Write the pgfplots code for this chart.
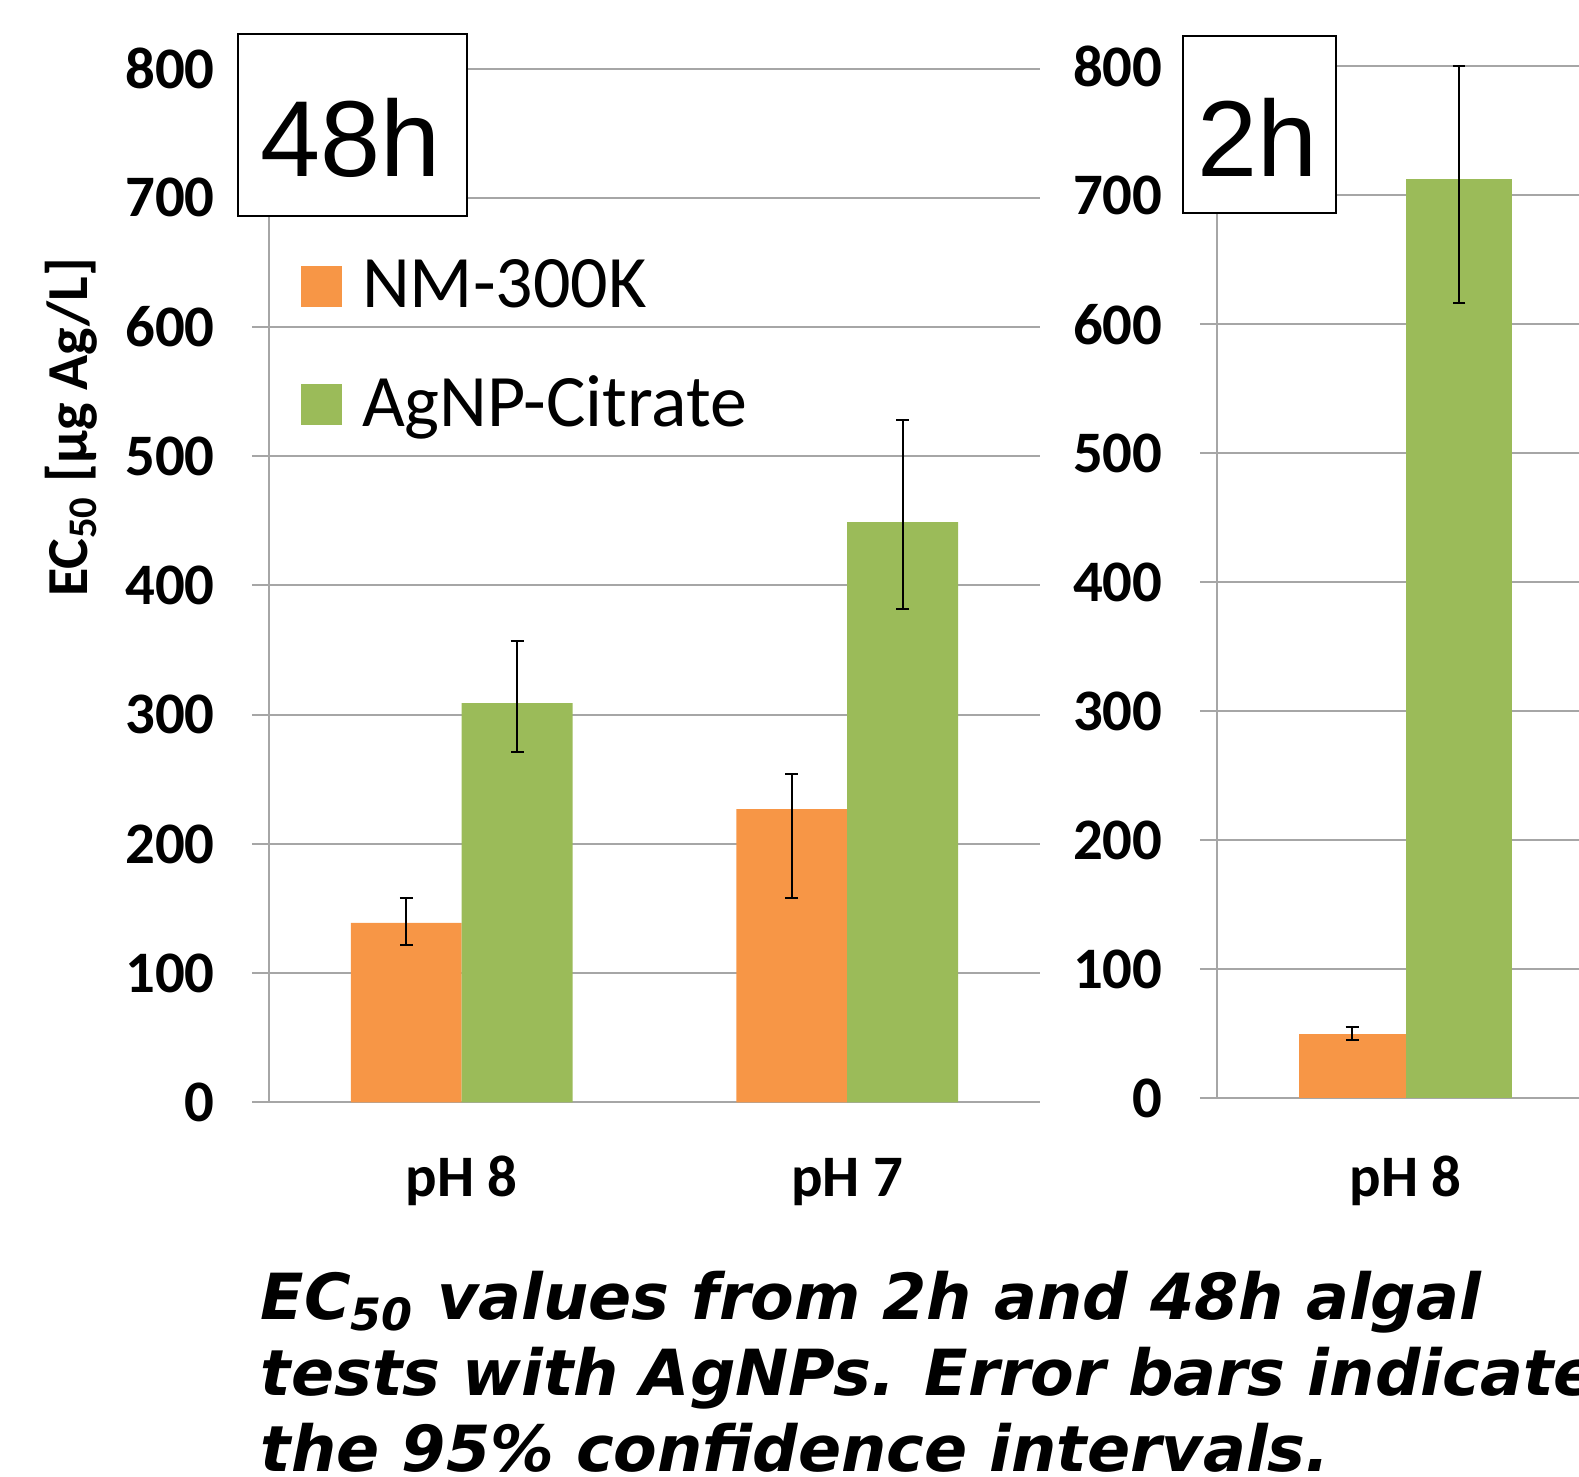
\documentclass[border=0pt]{standalone}
\usepackage{fontspec}
\setmainfont{Carlito}
\newfontfamily\capfont{DejaVu Sans}
\newfontfamily\arialfont{Liberation Sans}
\usepackage{pgfplots}
\pgfplotsset{compat=1.18}
\definecolor{orng}{HTML}{F79646}
\definecolor{grn}{HTML}{9BBB59}
\definecolor{grd}{HTML}{A6A6A6}
\pgfplotsset{
  panel/.style={
    scale only axis,
    anchor=south west,
    ybar=0pt,
    ymin=0, ymax=800,
    ytick={0,100,...,800},
    xmin=-0.5,
    axis lines*=left,
    axis line style={grd, line width=0.5pt},
    ymajorgrids,
    grid style={grd, line width=0.5pt},
    ytick align=outside,
    major tick length=4.25pt,
    tick style={grd, line width=0.5pt},
    x tick style={draw=none},
    /pgf/number format/assume math mode=true,
    tick label style={font=\fontsize{14.7}{16}\selectfont\bfseries},
    yticklabel style={anchor=east, inner sep=0pt, xshift=-9.15pt},
    error bars/error bar style={draw=black, line width=0.5pt},
    error bars/error mark options={rotate=90, draw=black, mark size=1.6pt, line width=0.5pt},
    clip=false,
  }
}
\begin{document}
\begin{tikzpicture}
\path[use as bounding box, clip] (0pt,0pt) rectangle (394.75pt,369.25pt);
% left panel (48h)
\begin{axis}[panel,
  at={(67.25pt,93.625pt)}, width=192.75pt, height=258.5pt,
  xmax=1.5, xtick={0,1}, xticklabels={pH 8,pH 7},
  xticklabel style={anchor=base, inner sep=0pt, yshift=-19.3pt},
  bar width=27.7pt,
  ylabel={EC\textsubscript{50} [µg Ag/L]},
  every axis y label/.style={at={(axis description cs:-0.2348,0.653)}, rotate=90, anchor=base, inner sep=0pt, font=\fontsize{14.5}{16}\selectfont\bfseries},
  legend image code/.code={\fill[#1] (0pt,-5.125pt) rectangle (10.25pt,5.125pt);},
  legend cell align=left,
  legend style={draw=none, fill=none, at={(axis description cs:0.0405,0.7314)}, anchor=west, inner sep=0pt, row sep=15.5pt, column sep=5pt, font=\fontsize{18.5}{21}\selectfont, nodes={inner sep=0pt}},
]
\addplot[fill=orng, draw=none, error bars/.cd, y dir=both, y explicit]
  coordinates {(0,139) += (0,19) -= (0,17) (1,227) += (0,27) -= (0,69)};
\addplot[fill=grn, draw=none, error bars/.cd, y dir=both, y explicit]
  coordinates {(0,309) += (0,48) -= (0,38) (1,449) += (0,79) -= (0,67)};
\legend{NM-300K, AgNP-Citrate}
\end{axis}
% right panel (2h)
\begin{axis}[panel,
  at={(304.25pt,94.625pt)}, width=103.675pt, height=258pt,
  xmax=0.6, xtick={0}, xticklabels={pH 8},
  xticklabel style={anchor=base, inner sep=0pt, yshift=-20.3pt},
  bar width=26.7pt,
]
\addplot[fill=orng, draw=none, error bars/.cd, y dir=both, y explicit]
  coordinates {(0,50) += (0,5.5) -= (0,5)};
\addplot[fill=grn, draw=none, error bars/.cd, y dir=both, y explicit]
  coordinates {(0,713) += (0,87) -= (0,96)};
\end{axis}
% panel labels
\draw[fill=white, line width=0.6pt] (59.5pt,315.25pt) rectangle (116.75pt,360.75pt);
\node[anchor=base, inner sep=0pt, font=\arialfont\fontsize{27}{30}\selectfont] at (87.75pt,325pt) {48h};
\draw[fill=white, line width=0.6pt] (295.75pt,316pt) rectangle (334pt,360.25pt);
\node[anchor=base, inner sep=0pt, font=\arialfont\fontsize{27}{30}\selectfont] at (314.4pt,325pt) {2h};
% caption
\begin{scope}[every node/.style={anchor=base west, inner sep=0pt, font=\capfont\bfseries\itshape\fontsize{15.9}{18.9}\selectfont}]
\node at (65pt,39.25pt) {EC\textsubscript{50} values from 2h and 48h algal};
\node at (65pt,20.25pt) {tests with AgNPs. Error bars indicate};
\node at (65pt,1.3pt) {the 95\% confidence intervals.};
\end{scope}
\end{tikzpicture}
\end{document}
